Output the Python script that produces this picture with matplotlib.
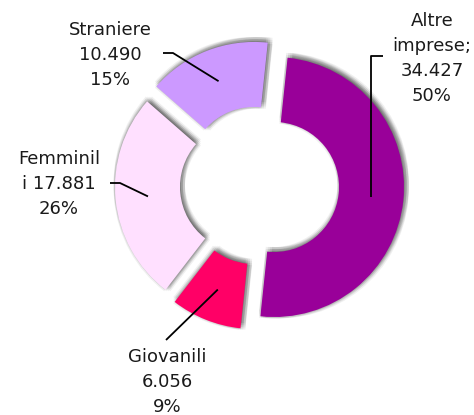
import numpy as np
import matplotlib.pyplot as plt
from matplotlib import patheffects as pe

names = ['Altre\nimprese;', 'Giovanili', 'Femminil\ni', 'Straniere']
values = [34427, 6056, 17881, 10490]
colors = ['#990099', '#FF0066', '#FFE0FF', '#CC99FF']

# canvas in pixels, pie centre and radius in pixels
W, H, S, CX, CY = 474, 415, 130, 259.5, 185.5


def px(x, y):
    return (x - CX) / S, (CY - y) / S


fig = plt.figure(figsize=(4.74, 4.15), dpi=100)
ax = fig.add_axes([0, 0, 1, 1])

shadow = [pe.SimplePatchShadow(offset=(1.5 + dx, 1.5 + dy), shadow_rgbFace='black', alpha=0.06)
          for dx in (-2.5, -1, 0.5, 2) for dy in (-2.5, -1, 0.5, 2)]

wedges, _ = ax.pie(values, colors=colors, startangle=84, counterclock=False,
                   explode=[0.112] * 4, radius=1,
                   wedgeprops=dict(width=0.5, linewidth=0))
for w in wedges:
    w.set_path_effects(shadow + [pe.Normal()])

ax.set_xlim(-CX / S, (W - CX) / S)
ax.set_ylim(-(H - CY) / S, CY / S)
ax.axis('off')

total = sum(values)
label_pos = [(432, 58), (167, 382), (59, 184), (110, 55)]
# leader line start points (pixels)
leader_start = [(383, 56), (166, 340), (110, 183), (163, 53)]

for i, w in enumerate(wedges):
    v = values[i]
    sep = ' ' if names[i].endswith('\ni') else '\n'
    txt = f"{names[i]}{sep}{v:,}".replace(',', '.') + f"\n{round(v / total * 100)}%"
    tx, ty = px(*label_pos[i])
    ax.text(tx, ty, txt, ha='center', va='center', fontsize=13, color='#1a1a1a',
            linespacing=1.5, family='DejaVu Sans')

    mid = np.deg2rad((w.theta1 + w.theta2) / 2)
    ex = w.center[0] + 0.75 * np.cos(mid)
    ey = w.center[1] + 0.75 * np.sin(mid)
    sx, sy = px(*leader_start[i])
    if i == 0:
        xs, ys = [sx, ex, ex], [sy, sy, ey]
    elif i == 1:
        xs, ys = [sx, ex], [sy, ey]
    else:
        kx = sx + 10 / S
        xs, ys = [sx, kx, ex], [sy, sy, ey]
    ax.plot(xs, ys, color='black', lw=1.3, solid_capstyle='butt')

fig.savefig('out.png', dpi=100)
